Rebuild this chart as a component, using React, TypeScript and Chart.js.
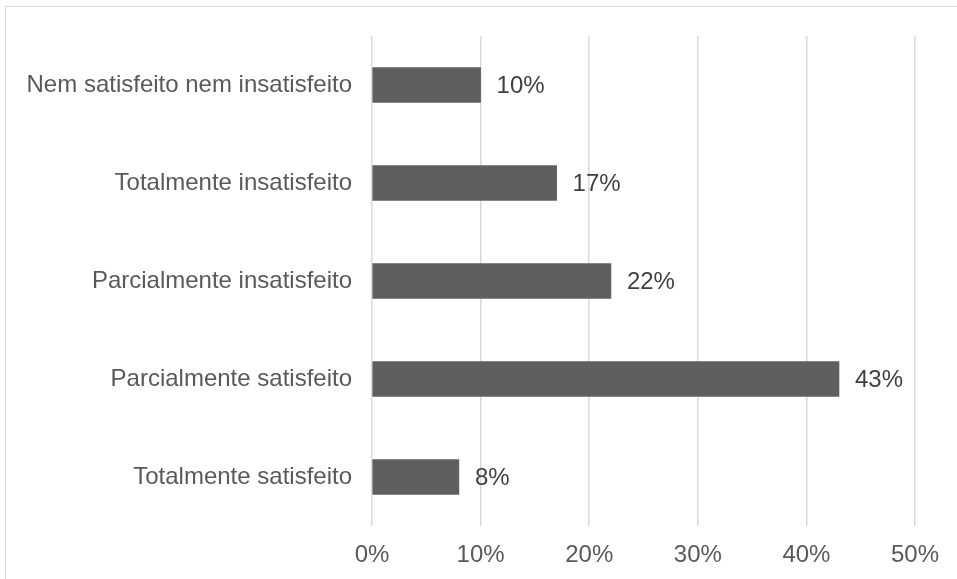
import React, { useEffect, useRef } from "react";
import { Chart, registerables } from "chart.js";

Chart.register(...registerables);

const categories = [
  "Nem satisfeito nem insatisfeito",
  "Totalmente insatisfeito",
  "Parcialmente insatisfeito",
  "Parcialmente satisfeito",
  "Totalmente satisfeito",
];
const values = [10, 17, 22, 43, 8];
const tickValues = [0, 10, 20, 30, 40, 50];

const FONT = "'Liberation Sans', Arial, sans-serif";

const dataLabels = {
  id: "dataLabels",
  afterDatasetsDraw(chart: any) {
    const ctx = chart.ctx;
    const meta = chart.getDatasetMeta(0);
    ctx.save();
    ctx.font = `24px ${FONT}`;
    ctx.fillStyle = "#404040";
    ctx.textAlign = "left";
    ctx.textBaseline = "middle";
    meta.data.forEach((bar: any, i: number) => {
      ctx.fillText(values[i] + "%", bar.x + 16, bar.y + 1);
    });
    ctx.restore();
  },
};

export default function App() {
  const ref = useRef<HTMLCanvasElement>(null);
  useEffect(() => {
    if (!ref.current) return;
    const chart = new Chart(ref.current, {
      type: "bar",
      data: {
        labels: categories,
        datasets: [
          {
            data: values,
            backgroundColor: "#5f5f5f",
            barThickness: 35,
          },
        ],
      },
      options: {
        indexAxis: "y",
        animation: false,
        responsive: false,
        maintainAspectRatio: false,
        layout: { padding: { top: 36, right: 42, left: 0, bottom: 0 } },
        plugins: { legend: { display: false }, tooltip: { enabled: false } },
        scales: {
          x: {
            min: 0,
            max: 50,
            afterBuildTicks(scale: any) {
              scale.ticks = tickValues.map((v) => ({ value: v }));
            },
            afterFit(scale: any) {
              scale.height = 53;
            },
            grid: { color: "#d9d9d9", lineWidth: 1.5, drawTicks: false },
            border: { display: false },
            ticks: {
              padding: 15,
              color: "#595959",
              font: { family: FONT, size: 24 },
              callback: (v: any) => v + "%",
            },
          },
          y: {
            afterFit(scale: any) {
              scale.width = 372;
            },
            grid: { display: false, drawTicks: false },
            border: { display: false },
            ticks: {
              padding: 20,
              color: "#595959",
              font: { family: FONT, size: 24 },
            },
          },
        },
      },
      plugins: [dataLabels],
    });
    return () => chart.destroy();
  }, []);
  return (
    <div style={{ position: "fixed", left: 0, top: 0, width: 957, height: 579, background: "#fff", overflow: "hidden" }}>
      <div
        style={{
          position: "absolute",
          left: 5,
          top: 6,
          width: 1200,
          height: 1200,
          border: "1.5px solid #d9d9d9",
        }}
      />
      <canvas ref={ref} width={957} height={579} style={{ position: "absolute", left: 0, top: 0 }} />
    </div>
  );
}
